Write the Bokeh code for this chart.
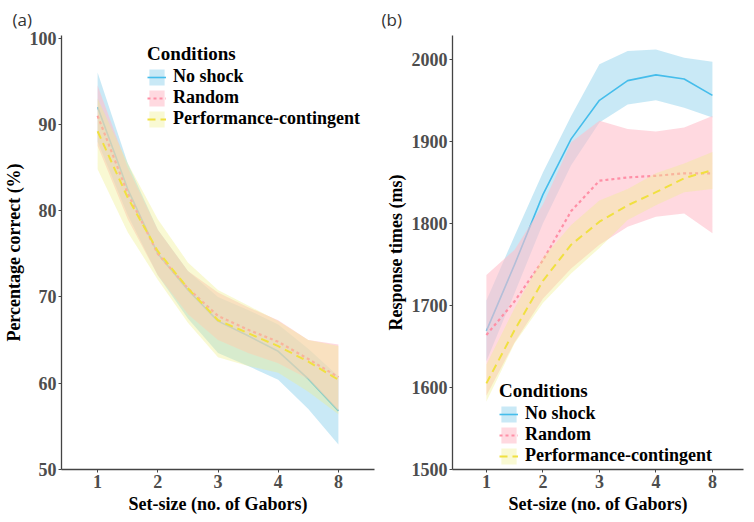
from bokeh.plotting import figure
from bokeh.models import Legend, LegendItem, FixedTicker, Title, Range1d
from bokeh.layouts import row
from bokeh.embed import file_html
from bokeh.resources import INLINE

# discrete set-size axis, curves read at half steps
set_size_labels = ["1", "2", "3", "4", "8"]
x_pos = [1, 1.5, 2, 2.5, 3, 3.5, 4, 4.5, 5]
conditions = ["No shock", "Random", "Performance-contingent"]

# (a) accuracy
acc_noshock = [92.0, 82.5, 75.0, 70.8, 67.2, 65.5, 63.7, 60.5, 56.8]
acc_noshock_lo = [88.0, 79.5, 72.5, 67.5, 63.5, 62.0, 60.4, 57.0, 52.9]
acc_noshock_hi = [96.0, 85.5, 77.8, 73.0, 70.0, 68.5, 66.8, 64.0, 60.8]
acc_random = [91.0, 82.0, 75.0, 71.0, 67.8, 66.2, 64.8, 62.8, 60.7]
acc_random_lo = [87.5, 79.0, 72.5, 68.0, 65.0, 63.5, 62.3, 60.5, 56.8]
acc_random_hi = [94.5, 85.0, 77.8, 73.0, 70.5, 68.8, 67.3, 65.0, 64.5]
acc_perf = [89.2, 81.5, 75.3, 71.0, 67.3, 65.8, 64.3, 62.5, 60.4]
acc_perf_lo = [84.8, 77.5, 72.0, 67.0, 63.0, 62.0, 61.2, 59.0, 56.4]
acc_perf_hi = [93.0, 85.5, 79.0, 74.0, 70.8, 69.0, 67.2, 65.0, 64.3]

# (b) response times
rt_noshock = [1669, 1750, 1835, 1903, 1950, 1974, 1981, 1976, 1956]
rt_noshock_lo = [1632, 1715, 1800, 1871, 1923, 1945, 1950, 1941, 1929]
rt_noshock_hi = [1706, 1785, 1862, 1931, 1994, 2010, 2012, 2002, 1997]
rt_random = [1664, 1705, 1755, 1815, 1852, 1856, 1858, 1861, 1861]
rt_random_lo = [1590, 1655, 1708, 1745, 1774, 1796, 1808, 1812, 1788]
rt_random_hi = [1737, 1768, 1823, 1899, 1925, 1915, 1912, 1917, 1931]
rt_perf = [1605, 1670, 1730, 1774, 1802, 1822, 1838, 1855, 1865]
rt_perf_lo = [1583, 1654, 1703, 1739, 1770, 1804, 1822, 1838, 1842]
rt_perf_hi = [1628, 1697, 1758, 1798, 1828, 1842, 1861, 1873, 1887]

SERIF = "Liberation Serif"
styles = [
    # fill, fill alpha, line colour, dash, width
    ("#87CEEB", 0.45, "#45BDEB", "solid", 1.6),
    ("#FFC0CB", 0.6, "#FF8FA6", "3 3", 2.2),
    ("#EEEE8C", 0.38, "#F0E040", "8 5", 2.0),
]


def make_panel(tag, ylab, yrange, xend, yticks, series, border_left, frame_w, legend_loc):
    p = figure(frame_width=frame_w, frame_height=434,
               output_backend="svg", toolbar_location=None,
               x_range=Range1d(0.4, xend), y_range=Range1d(*yrange),
               min_border_left=border_left, min_border_right=2,
               min_border_top=32, min_border_bottom=40)
    p.outline_line_color = None
    p.grid.visible = False

    items = []
    for name, (mid, lo, hi), (fc, fa, lc, dash, lw) in zip(conditions, series, styles):
        band = p.varea(x=x_pos, y1=lo, y2=hi, fill_color=fc, fill_alpha=fa)
        line = p.line(x=x_pos, y=mid, line_color=lc, line_dash=dash, line_width=lw)
        items.append(LegendItem(label=name, renderers=[band, line]))

    leg = Legend(items=items, title="Conditions", location=legend_loc,
                 background_fill_alpha=0, border_line_alpha=0,
                 title_text_font=SERIF, title_text_font_style="bold",
                 title_text_font_size="19px", title_text_color="black",
                 title_standoff=1,
                 label_text_font=SERIF, label_text_font_style="bold",
                 label_text_font_size="18px", label_text_color="black",
                 glyph_width=19, glyph_height=20, label_height=20,
                 label_standoff=7, spacing=0, padding=0, margin=0)
    p.add_layout(leg, "center")

    p.xaxis.ticker = FixedTicker(ticks=[1, 2, 3, 4, 5])
    p.xaxis.major_label_overrides = {i + 1: s for i, s in enumerate(set_size_labels)}
    p.yaxis.ticker = FixedTicker(ticks=yticks)
    p.xaxis.axis_label = "Set-size (no. of Gabors)"
    p.yaxis.axis_label = ylab
    for ax in (p.xaxis, p.yaxis):
        ax.axis_line_color = "#444444"
        ax.axis_line_width = 1.3
        ax.major_tick_line_color = "#444444"
        ax.major_tick_out = 3
        ax.major_tick_in = 0
        ax.minor_tick_line_color = None
        ax.major_label_text_font = SERIF
        ax.major_label_text_font_style = "bold"
        ax.major_label_text_font_size = "18px"
        ax.major_label_text_color = "#4D4D4D"
        ax.major_label_standoff = 2
        ax.axis_label_text_font = SERIF
        ax.axis_label_text_font_style = "bold"
        ax.axis_label_text_font_size = "18px"
        ax.axis_label_text_color = "black"
        ax.axis_label_standoff = 3

    p.add_layout(Title(text=tag, align="left", offset=-(border_left - 5),
                       text_font="Open Sans", text_font_style="normal",
                       text_font_size="17px", text_color="#333333"), "above")
    return p


left = make_panel("(a)", "Percentage correct (%)", (50, 100.3), 5.6,
                  [50, 60, 70, 80, 90, 100],
                  [(acc_noshock, acc_noshock_lo, acc_noshock_hi),
                   (acc_random, acc_random_lo, acc_random_hi),
                   (acc_perf, acc_perf_lo, acc_perf_hi)],
                  54, 313, (86, 340))
right = make_panel("(b)", "Response times (ms)", (1500, 2029), 5.55,
                   [1500, 1600, 1700, 1800, 1900, 2000],
                   [(rt_noshock, rt_noshock_lo, rt_noshock_hi),
                    (rt_random, rt_random_lo, rt_random_hi),
                    (rt_perf, rt_perf_lo, rt_perf_hi)],
                   76, 291, (47, 3))

p = row(left, right)
open("out.html", "w").write(file_html(p, INLINE))
